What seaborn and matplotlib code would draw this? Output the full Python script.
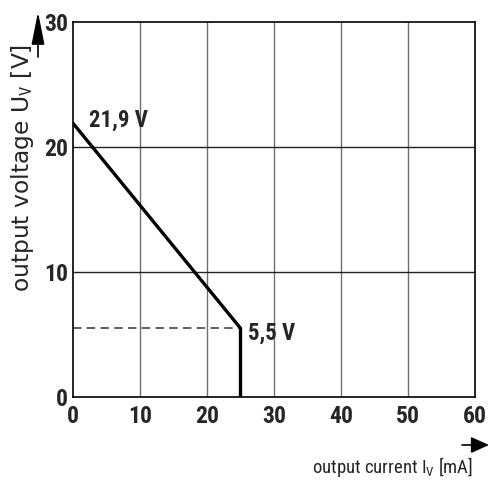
import matplotlib
matplotlib.use("Agg")
import seaborn as sns
import matplotlib.pyplot as plt
from matplotlib.patches import FancyArrowPatch

# curve: output voltage vs output current
current = [0, 25, 25]
voltage = [21.9, 5.5, 0]
# dashed reference at 5,5 V
ref_current = [0, 25]
ref_voltage = [5.5, 5.5]

x_ticks = [0, 10, 20, 30, 40, 50, 60]
y_ticks = [0, 10, 20, 30]

sns.set_theme(style="white")
cond = ['Roboto Condensed', 'DejaVu Sans']
plt.rcParams['font.family'] = cond
plt.rcParams['mathtext.fontset'] = 'custom'
plt.rcParams['mathtext.rm'] = 'Roboto Condensed'

fig = plt.figure(figsize=(5, 5), dpi=100)
ax = fig.add_axes([0.146, 0.206, 0.804, 0.75])

sns.lineplot(x=ref_current, y=ref_voltage, sort=False, estimator=None, ax=ax,
             color="#333333", linewidth=1.1, linestyle=(0, (5.5, 3.5)))
sns.lineplot(x=current, y=voltage, sort=False, estimator=None, ax=ax,
             color="black", linewidth=2.4)

ax.set_xlim(0, 60)
ax.set_ylim(0, 30)
ax.set_xticks(x_ticks)
ax.set_yticks(y_ticks)
for xv in x_ticks[1:-1]:
    ax.axvline(xv, color="#6e6e6e", linewidth=1.0, zorder=0)
for yv in y_ticks[1:-1]:
    ax.axhline(yv, color="#222222", linewidth=1.0, zorder=0)
for side in ax.spines.values():
    side.set_color("black")
    side.set_linewidth(1.2)
ax.tick_params(axis="y", length=0, pad=3.5, labelsize=17)
ax.tick_params(axis="x", length=0, pad=6, labelsize=17)
for lab in ax.get_xticklabels() + ax.get_yticklabels():
    lab.set_fontweight("bold")
ax.set_xlabel("")
ax.set_ylabel("")

ax.text(2.4, 21.6, "21,9 V", fontsize=16.5, fontweight="bold", va="baseline", ha="left")
ax.text(26.1, 4.6, "5,5 V", fontsize=16.5, fontweight="bold", va="baseline", ha="left")

fig.text(0.046, 0.665, "output voltage U$_\\mathrm{V}$ [V]", rotation=90,
         ha="center", va="center", fontsize=16.8, family=['DejaVu Sans'])
fig.text(0.946, 0.066, "output current I$_\\mathrm{V}$ [mA]", ha="right", va="center",
         fontsize=13.5)

fig.patches.append(FancyArrowPatch(
    (0.076, 0.886), (0.076, 0.976), transform=fig.transFigure,
    arrowstyle="-|>,head_length=1.0,head_width=0.2", color="black", linewidth=1.2,
    mutation_scale=20, shrinkA=0, shrinkB=0))
fig.patches.append(FancyArrowPatch(
    (0.924, 0.11), (0.978, 0.11), transform=fig.transFigure,
    arrowstyle="-|>,head_length=1.0,head_width=0.45", color="black", linewidth=1.2,
    mutation_scale=11, shrinkA=0, shrinkB=0))

fig.savefig("out.png", dpi=100)
